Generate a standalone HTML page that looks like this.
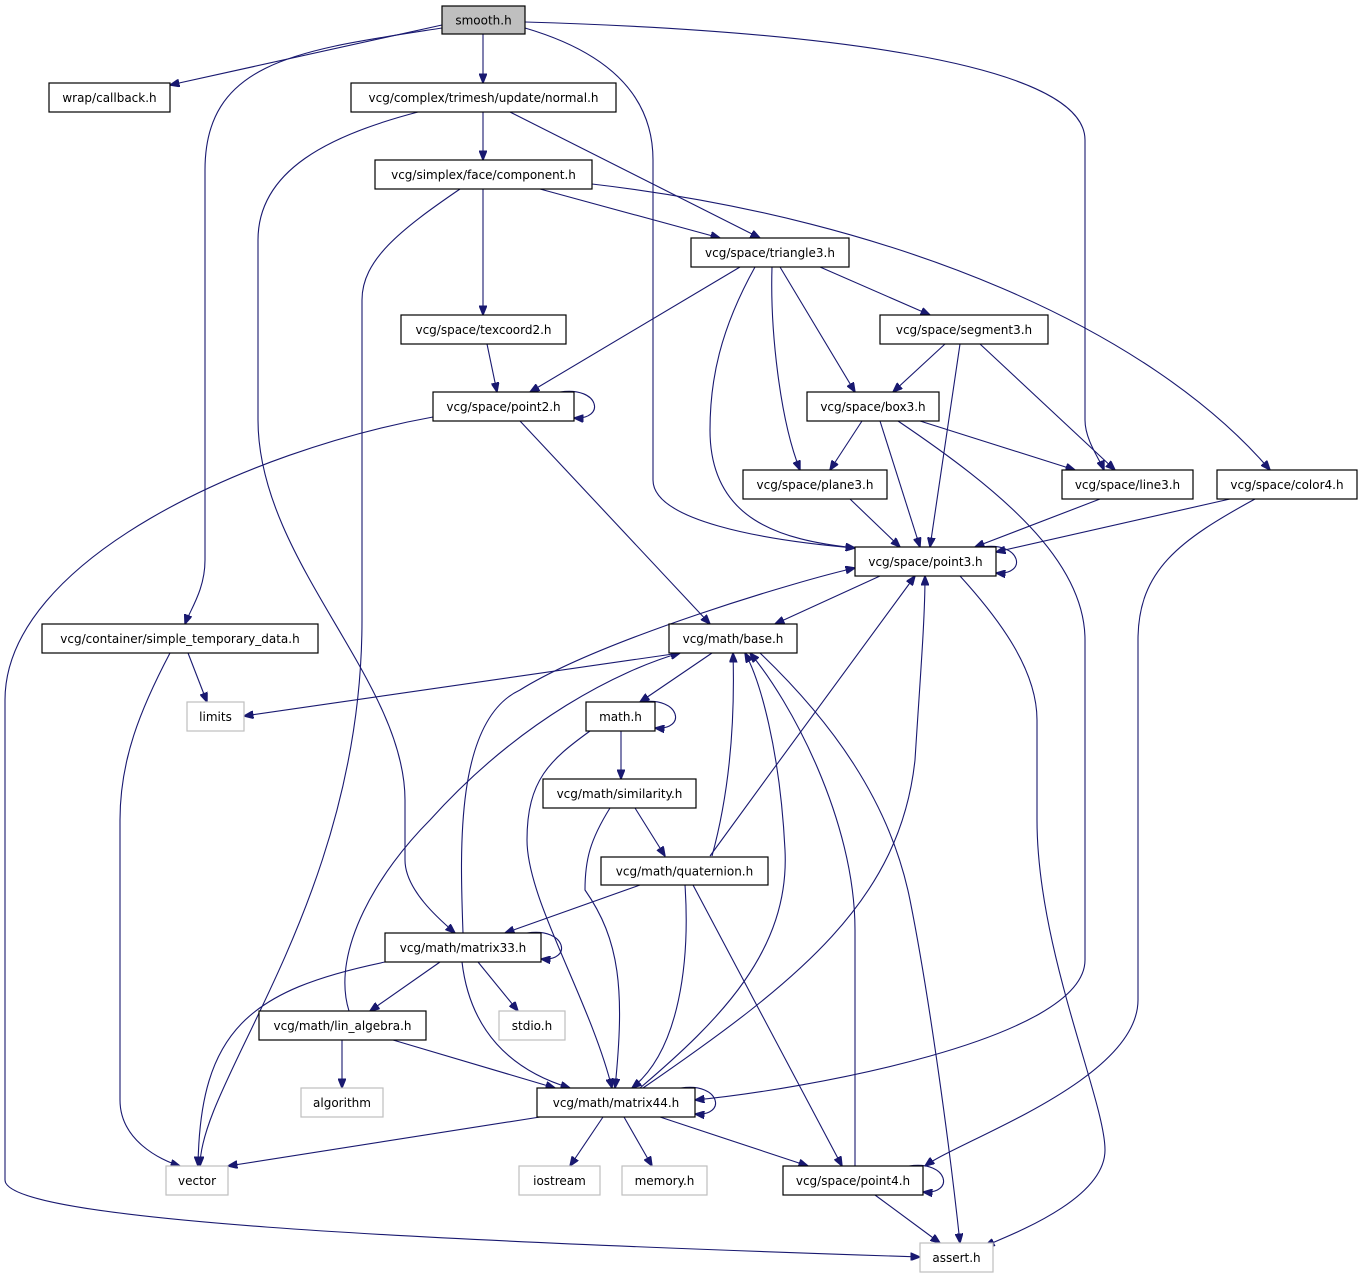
<!DOCTYPE html>
<html><head><meta charset="utf-8"><style>
html,body{margin:0;padding:0;background:#fff;}
svg{display:block;}
text{font-family:"DejaVu Sans","Liberation Sans",sans-serif;font-size:12px;fill:#000;}
.e{fill:none;stroke:#191970;stroke-width:1.1;marker-end:url(#a);}
.n{fill:#fff;stroke:#000;stroke-width:1.2;}
.g{fill:#fff;stroke:#bfbfbf;stroke-width:1.2;}
</style></head><body>
<svg width="1363" height="1277" viewBox="0 0 1363 1277" xmlns="http://www.w3.org/2000/svg">
<defs><marker id="a" markerWidth="10" markerHeight="8" refX="9.5" refY="4" orient="auto" markerUnits="userSpaceOnUse"><path d="M0,0 L10,4 L0,8 Z" fill="#191970" stroke="#191970"/></marker></defs>
<g>
<path class="e" d="M442,25 L170,85"/>
<path class="e" d="M483,34 L483,83"/>
<path class="e" d="M442,28 C300,50 205,60 205,170 L205,560 C205,590 190,610 185,624"/>
<path class="e" d="M525,28 C600,50 653,90 653,160 L653,480 C653,520 760,540 855,548"/>
<path class="e" d="M525,22 C800,30 1085,60 1085,140 L1085,420 C1085,440 1100,460 1104,470"/>
<path class="e" d="M483,112 L483,160"/>
<path class="e" d="M510,112 L760,238"/>
<path class="e" d="M418,112 C330,135 258,170 258,240 L258,420 C258,560 405,680 405,800 L405,860 C405,890 440,920 455,933"/>
<path class="e" d="M540,189 L720,238"/>
<path class="e" d="M483,189 L483,315"/>
<path class="e" d="M592,184 C900,220 1150,330 1270,470"/>
<path class="e" d="M460,189 C400,230 362,260 362,300 L362,620 C362,900 200,1080 200,1166"/>
<path class="e" d="M740,267 L530,392"/>
<path class="e" d="M780,267 L855,392"/>
<path class="e" d="M772,267 C770,330 780,420 800,470"/>
<path class="e" d="M820,267 L930,315"/>
<path class="e" d="M755,267 C720,330 710,380 710,430 C710,520 780,540 855,548"/>
<path class="e" d="M487,344 L497,392"/>
<path class="e" d="M945,344 L893,392"/>
<path class="e" d="M960,344 L930,547"/>
<path class="e" d="M980,344 L1115,470"/>
<path class="e" d="M560,392 C600,386 606,420 574,418"/>
<path class="e" d="M520,421 L710,624"/>
<path class="e" d="M433,417 C250,450 5,560 5,700 L5,1180 C5,1220 400,1240 920,1257"/>
<path class="e" d="M862,421 L830,470"/>
<path class="e" d="M880,421 L920,547"/>
<path class="e" d="M920,421 L1075,470"/>
<path class="e" d="M898,421 C1000,490 1085,560 1085,640 L1085,960 C1085,1040 800,1090 695,1100"/>
<path class="e" d="M850,499 L900,547"/>
<path class="e" d="M1100,499 L975,547"/>
<path class="e" d="M1230,499 L996,552"/>
<path class="e" d="M1255,499 C1180,540 1138,570 1138,640 L1138,1000 C1138,1080 960,1140 925,1166"/>
<path class="e" d="M982,547 C1022,541 1028,576 996,573"/>
<path class="e" d="M880,576 L775,624"/>
<path class="e" d="M960,576 C1000,620 1037,670 1037,720 L1037,820 C1037,950 1105,1100 1105,1150 C1105,1200 1010,1235 985,1246"/>
<path class="e" d="M188,653 L207,702"/>
<path class="e" d="M170,653 C140,710 120,760 120,820 L120,1100 C120,1140 160,1160 180,1166"/>
<path class="e" d="M680,653 L244,716"/>
<path class="e" d="M712,653 L640,702"/>
<path class="e" d="M760,653 C830,720 890,800 910,900 C930,1000 950,1150 960,1243"/>
<path class="e" d="M641,702 C681,696 687,731 655,728"/>
<path class="e" d="M621,731 L621,779"/>
<path class="e" d="M590,731 C550,760 527,780 527,840 C527,900 590,1000 612,1088"/>
<path class="e" d="M635,808 L665,856"/>
<path class="e" d="M610,808 C590,840 585,860 585,890 C620,940 625,990 615,1088"/>
<path class="e" d="M712,856 C730,790 735,720 733,653"/>
<path class="e" d="M710,856 C780,760 860,650 915,576"/>
<path class="e" d="M640,885 L505,933"/>
<path class="e" d="M685,885 C690,960 680,1050 632,1088"/>
<path class="e" d="M693,885 L842,1166"/>
<path class="e" d="M527,933 C567,927 573,962 541,959"/>
<path class="e" d="M463,933 C460,850 455,720 520,690 C600,640 800,580 855,568"/>
<path class="e" d="M349,1011 C330,950 380,870 430,820 C520,720 620,670 680,653"/>
<path class="e" d="M440,962 L370,1011"/>
<path class="e" d="M478,962 L518,1011"/>
<path class="e" d="M385,962 C250,990 200,1030 198,1166"/>
<path class="e" d="M462,962 C470,1030 510,1070 570,1088"/>
<path class="e" d="M342,1040 L342,1088"/>
<path class="e" d="M393,1040 L555,1088"/>
<path class="e" d="M681,1088 C721,1082 727,1117 695,1114"/>
<path class="e" d="M540,1117 L228,1166"/>
<path class="e" d="M603,1117 L570,1166"/>
<path class="e" d="M624,1117 L652,1166"/>
<path class="e" d="M660,1117 L808,1166"/>
<path class="e" d="M640,1088 C720,1020 790,950 785,850 C780,750 760,680 745,653"/>
<path class="e" d="M643,1088 C800,980 900,900 915,760 C920,680 925,620 925,576"/>
<path class="e" d="M855,1166 L855,930 C855,820 790,700 750,653"/>
<path class="e" d="M909,1166 C949,1160 955,1195 923,1192"/>
<path class="e" d="M875,1195 L940,1243"/>
</g>
<g>
<rect x="442" y="6" width="83" height="28" fill="#bfbfbf" stroke="#000" stroke-width="1.2"/><text x="483.5" y="24.5" text-anchor="middle">smooth.h</text>
<rect class="n" x="49" y="83" width="121" height="29"/><text x="109.5" y="102" text-anchor="middle">wrap/callback.h</text>
<rect class="n" x="351" y="83" width="265" height="29"/><text x="483.5" y="102" text-anchor="middle">vcg/complex/trimesh/update/normal.h</text>
<rect class="n" x="375" y="160" width="217" height="29"/><text x="483.5" y="179" text-anchor="middle">vcg/simplex/face/component.h</text>
<rect class="n" x="691" y="238" width="158" height="29"/><text x="770" y="257" text-anchor="middle">vcg/space/triangle3.h</text>
<rect class="n" x="401" y="315" width="165" height="29"/><text x="483.5" y="334" text-anchor="middle">vcg/space/texcoord2.h</text>
<rect class="n" x="880" y="315" width="168" height="29"/><text x="964" y="334" text-anchor="middle">vcg/space/segment3.h</text>
<rect class="n" x="433" y="392" width="141" height="29"/><text x="503.5" y="411" text-anchor="middle">vcg/space/point2.h</text>
<rect class="n" x="807" y="392" width="132" height="29"/><text x="873" y="411" text-anchor="middle">vcg/space/box3.h</text>
<rect class="n" x="743" y="470" width="144" height="29"/><text x="815" y="489" text-anchor="middle">vcg/space/plane3.h</text>
<rect class="n" x="1062" y="470" width="131" height="29"/><text x="1127.5" y="489" text-anchor="middle">vcg/space/line3.h</text>
<rect class="n" x="1217" y="470" width="140" height="29"/><text x="1287" y="489" text-anchor="middle">vcg/space/color4.h</text>
<rect class="n" x="855" y="547" width="141" height="29"/><text x="925.5" y="566" text-anchor="middle">vcg/space/point3.h</text>
<rect class="n" x="42" y="624" width="276" height="29"/><text x="180" y="643" text-anchor="middle">vcg/container/simple_temporary_data.h</text>
<rect class="n" x="669" y="624" width="128" height="29"/><text x="733" y="643" text-anchor="middle">vcg/math/base.h</text>
<rect class="g" x="187" y="702" width="57" height="29"/><text x="215.5" y="721" text-anchor="middle">limits</text>
<rect class="n" x="586" y="702" width="69" height="29"/><text x="620.5" y="721" text-anchor="middle">math.h</text>
<rect class="n" x="543" y="779" width="153" height="29"/><text x="619.5" y="798" text-anchor="middle">vcg/math/similarity.h</text>
<rect class="n" x="601" y="857" width="167" height="28"/><text x="684.5" y="875.5" text-anchor="middle">vcg/math/quaternion.h</text>
<rect class="n" x="385" y="933" width="156" height="29"/><text x="463" y="952" text-anchor="middle">vcg/math/matrix33.h</text>
<rect class="g" x="499" y="1011" width="66" height="29"/><text x="532" y="1030" text-anchor="middle">stdio.h</text>
<rect class="n" x="259" y="1011" width="167" height="29"/><text x="342.5" y="1030" text-anchor="middle">vcg/math/lin_algebra.h</text>
<rect class="g" x="301" y="1088" width="82" height="29"/><text x="342" y="1107" text-anchor="middle">algorithm</text>
<rect class="n" x="537" y="1088" width="158" height="29"/><text x="616" y="1107" text-anchor="middle">vcg/math/matrix44.h</text>
<rect class="g" x="166" y="1166" width="62" height="29"/><text x="197" y="1185" text-anchor="middle">vector</text>
<rect class="g" x="519" y="1166" width="81" height="29"/><text x="559.5" y="1185" text-anchor="middle">iostream</text>
<rect class="g" x="622" y="1166" width="85" height="29"/><text x="664.5" y="1185" text-anchor="middle">memory.h</text>
<rect class="n" x="783" y="1166" width="140" height="29"/><text x="853" y="1185" text-anchor="middle">vcg/space/point4.h</text>
<rect class="g" x="920" y="1243" width="73" height="29"/><text x="956.5" y="1262" text-anchor="middle">assert.h</text>
</g>
</svg>
</body></html>
